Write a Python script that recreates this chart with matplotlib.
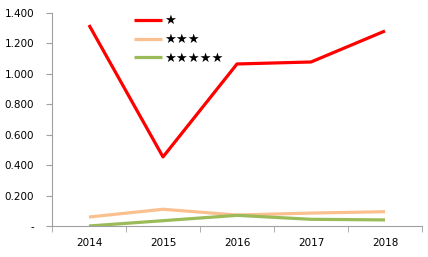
import matplotlib
matplotlib.use("Agg")
import matplotlib.pyplot as plt
import numpy as np

years = ["2014", "2015", "2016", "2017", "2018"]
one_star = [1.321, 0.454, 1.065, 1.078, 1.282]
three_star = [0.059, 0.110, 0.072, 0.085, 0.094]
five_star = [0.000, 0.035, 0.070, 0.044, 0.040]
names = ["★", "★★★", "★★★★★"]
colors = ["#ff0000", "#fac090", "#9bbb59"]

fig = plt.figure(figsize=(4.28, 2.57), dpi=100)
ax = fig.add_axes([52 / 428, 1 - 226 / 257, 370 / 428, 213 / 257])

x = np.arange(len(years))
for vals, name, c in zip([one_star, three_star, five_star], names, colors):
    ax.plot(x, vals, color=c, lw=2.3, label=name, solid_capstyle="butt")

ax.set_xlim(-0.5, len(years) - 0.5)
ax.set_ylim(0, 1.4)
yt = np.arange(0, 1.41, 0.2)
ax.set_yticks(yt)
ax.set_yticklabels(["-"] + ["%.3f" % v for v in yt[1:]])
ax.set_xticks(x)
ax.set_xticklabels(years)
ax.set_xticks(np.arange(-0.5, len(years)), minor=True)
ax.tick_params(axis="x", which="major", length=0, pad=9, labelsize=7.5)
ax.tick_params(axis="x", which="minor", length=4, color="#a0a0a0")
ax.tick_params(axis="y", length=4, color="#a0a0a0", labelsize=7.5, pad=9)
for s in ["top", "right"]:
    ax.spines[s].set_visible(False)
for s in ["left", "bottom"]:
    ax.spines[s].set_color("#a0a0a0")

ax.legend(loc="upper left", bbox_to_anchor=(0.19, 1.05), frameon=False,
          fontsize=9.5, handlelength=2.1, handletextpad=0.2, labelspacing=0.45)

fig.savefig("out.png", dpi=100)
